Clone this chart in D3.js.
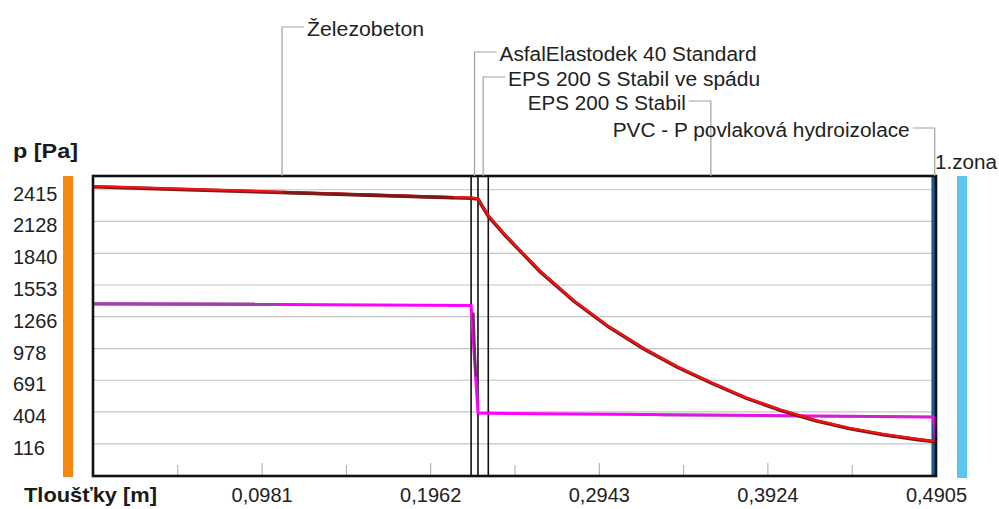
<!DOCTYPE html>
<html>
<head>
<meta charset="utf-8">
<script src="https://cdn.jsdelivr.net/npm/d3@7"></script>
<style>
  html, body { margin: 0; padding: 0; background: #fff; }
  svg { display: block; font-family: "Liberation Sans", Arial, sans-serif; }
</style>
</head>
<body>
<svg id="chart" width="999" height="509"></svg>
<script>
// Roof build-up: layer names and thicknesses [m]
const layerNames = ["Železobeton", "AsfalElastodek 40 Standard", "EPS 200 S Stabil ve spádu", "EPS 200 S Stabil", "PVC - P povlaková hydroizolace"];
const layerThickness = [0.22, 0.004, 0.006, 0.259, 0.0015];
const zoneName = "1.zona";

// Axis ticks
const pressureTicks = [2415, 2128, 1840, 1553, 1266, 978, 691, 404, 116];
const depthTicks = [0.0981, 0.1962, 0.2943, 0.3924, 0.4905];
const depthTickLabels = ["0,0981", "0,1962", "0,2943", "0,3924", "0,4905"];
const depthMinorTicks = [0.04905, 0.14715, 0.24525, 0.34335, 0.44145];

// Saturated water vapour pressure through the section [Pa]
const satX = [0, 0.055, 0.11, 0.165, 0.22, 0.224, 0.23, 0.24, 0.26, 0.28, 0.30, 0.32, 0.34, 0.36, 0.38, 0.40, 0.42, 0.44, 0.46, 0.48, 0.489, 0.4905];
const satP = [2438, 2412, 2386, 2360, 2334, 2327, 2172, 1995, 1672, 1400, 1170, 975, 805, 660, 525, 415, 322, 250, 194, 149, 132, 130];
// darker overlay of the saturated pressure curve in the concrete
const satDarkX = [0.11, 0.165, 0.21];
const satDarkP = [2386, 2360, 2339];

// Partial water vapour pressure through the section [Pa]
const parX = [0, 0.11, 0.22, 0.224, 0.23, 0.36, 0.489, 0.4905];
const parP = [1376, 1372, 1364, 390, 388, 372, 355, 140];
// darker overlays of the partial pressure curve
const parDarkAX = [0, 0.108];
const parDarkAP = [1378, 1376];
const parDarkBX = [0.2213, 0.2227];
const parDarkBP = [1300, 720];
const parDarkCX = [0.33, 0.489];
const parDarkCP = [370, 353];

const svg = d3.select("#chart");
const plotL = 93, plotR = 936, plotT = 176, plotB = 476;

const x = d3.scaleLinear().domain([0, 0.4905]).range([plotL, plotR]);
const y = d3.scaleLinear().domain([-180, 2535]).range([plotB, plotT]);

// layer boundaries
const edges = [0];
layerThickness.forEach(t => edges.push(+(edges[edges.length - 1] + t).toFixed(5)));

// side colour bars (interior / exterior)
svg.append("rect").attr("x", plotL - 30).attr("y", plotT).attr("width", 10).attr("height", plotB - plotT + 1).attr("fill", "#f7880f");
svg.append("rect").attr("x", plotR + 21).attr("y", plotT).attr("width", 10).attr("height", plotB - plotT + 2).attr("fill", "#5cc6f2");

// horizontal grid + pressure labels
const yAxis = d3.axisLeft(y).tickValues(pressureTicks).tickSize(-(plotR - plotL)).tickFormat(d3.format("d"));
const gy = svg.append("g").attr("transform", `translate(${plotL},0)`).call(yAxis);
gy.select(".domain").remove();
gy.selectAll(".tick line").attr("stroke", "#c4c4c4").attr("stroke-width", 1.2);
gy.selectAll(".tick text")
  .attr("x", 13 - plotL).attr("dy", 11).attr("text-anchor", "start")
  .attr("font-size", 20).attr("fill", "#222")
  .attr("font-family", "'Liberation Sans', Arial, sans-serif");

// minor and major ticks on the depth axis
const xMinor = d3.axisBottom(x).tickValues(depthMinorTicks).tickSizeInner(-11).tickSizeOuter(0).tickFormat("");
const gxm = svg.append("g").attr("transform", `translate(0,${plotB})`).call(xMinor);
gxm.select(".domain").remove();
gxm.selectAll(".tick line").attr("stroke", "#a8a8a8");

const xAxis = d3.axisBottom(x).tickValues(depthTicks).tickSizeInner(-13).tickSizeOuter(0)
  .tickFormat((d, i) => depthTickLabels[i]);
const gx = svg.append("g").attr("transform", `translate(0,${plotB})`).call(xAxis);
gx.select(".domain").remove();
gx.selectAll(".tick line").attr("stroke", "#a8a8a8");
gx.selectAll(".tick text").attr("y", 26).attr("dy", 0)
  .attr("font-size", 20).attr("fill", "#222")
  .attr("font-family", "'Liberation Sans', Arial, sans-serif");

// PVC layer band at the exterior side
svg.append("rect")
  .attr("x", x(edges[4]) - 2).attr("y", plotT)
  .attr("width", x(edges[5]) - x(edges[4]) + 2).attr("height", plotB - plotT)
  .attr("fill", "#1b5a90");

// inner layer boundaries
svg.selectAll("line.edge").data(edges.slice(1, 4)).enter().append("line")
  .attr("class", "edge")
  .attr("x1", d => x(d)).attr("x2", d => x(d))
  .attr("y1", plotT).attr("y2", plotB)
  .attr("stroke", "#111").attr("stroke-width", 1.6);

// curves
const line = d3.line().x(d => x(d[0])).y(d => y(d[1]));
const zipPts = (xs, ps) => xs.map((v, i) => [v, ps[i]]);

svg.append("path").datum(zipPts(parX, parP)).attr("d", line)
  .attr("fill", "none").attr("stroke", "#ff00ff").attr("stroke-width", 3);
svg.append("path").datum(zipPts(parDarkAX, parDarkAP)).attr("d", line)
  .attr("fill", "none").attr("stroke", "#a040a8").attr("stroke-width", 3);
svg.append("path").datum(zipPts(parDarkBX, parDarkBP)).attr("d", line)
  .attr("fill", "none").attr("stroke", "#7a2a6e").attr("stroke-width", 2.5);
svg.append("path").datum(zipPts(parDarkCX, parDarkCP)).attr("d", line)
  .attr("fill", "none").attr("stroke", "#a040a8").attr("stroke-width", 2.5).attr("stroke-opacity", 0.55);

svg.append("path").datum(zipPts(satX, satP)).attr("d", line)
  .attr("fill", "none").attr("stroke", "#7c1a18").attr("stroke-width", 3.6);
svg.append("path").datum(zipPts(satX, satP)).attr("d", line)
  .attr("fill", "none").attr("stroke", "#ff1010").attr("stroke-width", 2).attr("transform", "translate(0,-0.6)");
svg.append("path").datum(zipPts(satDarkX, satDarkP)).attr("d", line)
  .attr("fill", "none").attr("stroke", "#7c1a18").attr("stroke-width", 3);

// plot frame
svg.append("rect").attr("x", plotL).attr("y", plotT).attr("width", plotR - plotL).attr("height", plotB - plotT)
  .attr("fill", "none").attr("stroke", "#111").attr("stroke-width", 2.6);

// layer callouts
const callouts = [
  { row: 27,  side: "left",  width: 117 },
  { row: 52,  side: "left",  width: 257 },
  { row: 77,  side: "left",  width: 252 },
  { row: 101, side: "right", width: 158 },
  { row: 128, side: "right", width: 297 }
];
const cg = svg.append("g");
callouts.forEach((c, i) => {
  const cx = x((edges[i] + edges[i + 1]) / 2);
  const dir = c.side === "left" ? 1 : -1;
  cg.append("path")
    .attr("d", `M${cx},${plotT} V${c.row} H${cx + dir * 22}`)
    .attr("fill", "none").attr("stroke", "#a0a0a0").attr("stroke-width", 1.2);
  cg.append("text")
    .attr("x", cx + dir * 25).attr("y", c.row + 8.5)
    .attr("text-anchor", c.side === "left" ? "start" : "end")
    .attr("font-size", 20).attr("fill", "#222")
    .attr("textLength", c.width).attr("lengthAdjust", "spacingAndGlyphs")
    .text(layerNames[i]);
});

svg.append("text").attr("x", plotR - 1).attr("y", 168.5)
  .attr("font-size", 20).attr("fill", "#222")
  .attr("textLength", 62).attr("lengthAdjust", "spacingAndGlyphs")
  .text(zoneName);

// axis titles
svg.append("text").attr("x", 13).attr("y", 158)
  .attr("font-size", 21).attr("font-weight", "bold").attr("fill", "#1a1a1a")
  .attr("textLength", 65).attr("lengthAdjust", "spacingAndGlyphs")
  .text("p [Pa]");
svg.append("text").attr("x", 24).attr("y", 502)
  .attr("font-size", 21).attr("font-weight", "bold").attr("fill", "#1a1a1a")
  .attr("textLength", 133).attr("lengthAdjust", "spacingAndGlyphs")
  .text("Tloušťky [m]");
</script>
</body>
</html>
